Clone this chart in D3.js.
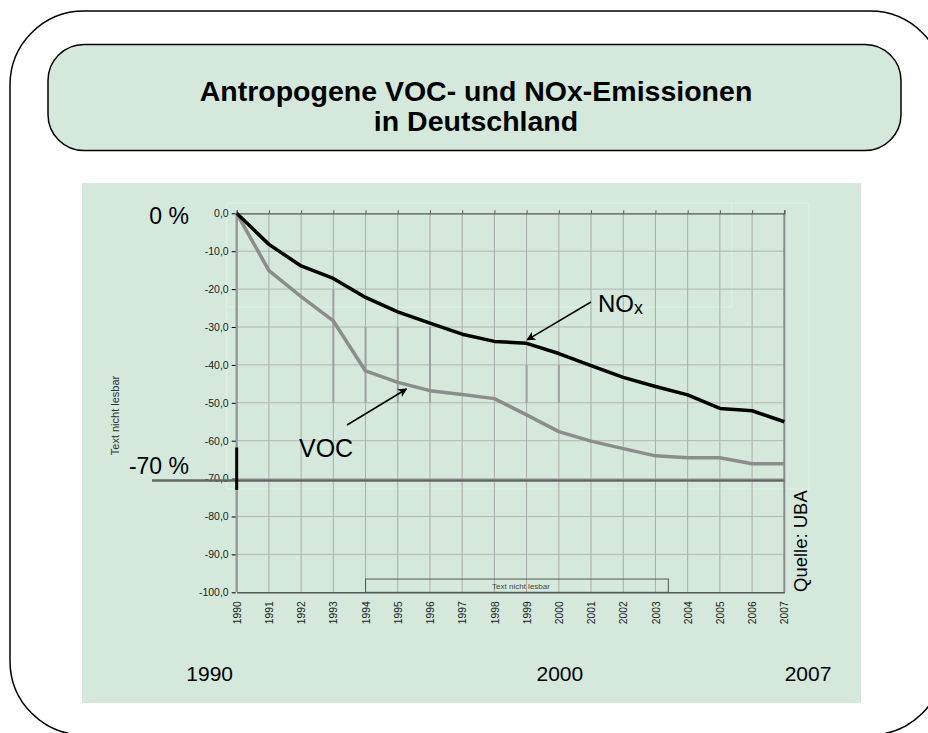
<!DOCTYPE html>
<html>
<head>
<meta charset="utf-8">
<script src="https://cdn.jsdelivr.net/npm/d3@7"></script>
<style>
  html, body { margin: 0; padding: 0; background: #fff; }
  svg { display: block; }
</style>
</head>
<body>
<svg id="chart" width="928" height="733"></svg>
<script>
// values (percent change vs. 1990)
const years = [1990, 1991, 1992, 1993, 1994, 1995, 1996, 1997, 1998, 1999,
               2000, 2001, 2002, 2003, 2004, 2005, 2006, 2007];
const nox = [0, -8.2, -13.9, -17.2, -22.2, -26.0, -29.0, -31.9, -33.8, -34.3,
             -37.0, -40.2, -43.3, -45.7, -47.9, -51.5, -52.1, -55.0];
const voc = [0, -15.1, -22.0, -28.4, -41.6, -44.6, -46.8, -47.8, -48.9, -53.2,
             -57.6, -60.1, -62.1, -64.0, -64.5, -64.5, -66.1, -66.1];
const yTicks = [0, -10, -20, -30, -40, -50, -60, -70, -80, -90, -100];
const bigYearLabels = [1990, 2000, 2007];
const titleLines = ["Antropogene VOC- und NOx-Emissionen", "in Deutschland"];
// darker grey stubs on some gridlines in the original scan: [year, from, to]
const stubs = [[1993, -20, -50], [1994, -30, -50], [1995, -30, -50],
               [1996, -30, -50], [1999, -40, -50], [2000, -40, -50]];

const svg = d3.select("#chart");
const panelFill = "#d4e9dc";
const sans = "'Liberation Sans', Arial, sans-serif";

// outer rounded frame (runs off the page on right/bottom)
svg.append("rect")
  .attr("x", 10).attr("y", 11).attr("width", 934).attr("height", 724)
  .attr("rx", 74).attr("ry", 74)
  .attr("fill", "#fff").attr("stroke", "#000").attr("stroke-width", 1.5);

// title box
svg.append("rect")
  .attr("x", 48).attr("y", 44.5).attr("width", 853).attr("height", 106)
  .attr("rx", 36).attr("ry", 36)
  .attr("fill", panelFill).attr("stroke", "#000").attr("stroke-width", 1.5);

svg.append("g").selectAll("text")
  .data(titleLines)
  .join("text")
  .attr("x", 476)
  .attr("y", (d, i) => 101 + i * 30)
  .attr("text-anchor", "middle")
  .attr("font-family", sans)
  .attr("font-weight", "bold")
  .attr("font-size", 28.5)
  .attr("fill", "#000")
  .text(d => d);

// chart panel
svg.append("rect")
  .attr("x", 82).attr("y", 183).attr("width", 779).attr("height", 520)
  .attr("fill", panelFill);

const x = d3.scaleLinear().domain([1990, 2007]).range([236.7, 784.3]);
const y = d3.scaleLinear().domain([0, -100]).range([213.3, 592.3]);

// faint edges of pasted pieces in the original scan
const ghost = svg.append("g").attr("fill", "none").attr("stroke", "#fff").attr("stroke-opacity", 0.35);
ghost.append("rect").attr("x", 226.7).attr("y", 203).attr("width", 582.3).attr("height", 286);
ghost.append("path").attr("d", "M226.7,307H731.7V203");

// grid
const grid = svg.append("g");
grid.selectAll("line.v")
  .data(years.slice(1, -1))
  .join("line")
  .attr("class", "v")
  .attr("x1", d => x(d)).attr("x2", d => x(d))
  .attr("y1", y(0)).attr("y2", y(-100))
  .attr("stroke", "#aaa").attr("stroke-width", 1);
grid.selectAll("line.h")
  .data(yTicks.slice(1, -1))
  .join("line")
  .attr("class", "h")
  .attr("x1", x(1990)).attr("x2", x(2007))
  .attr("y1", d => y(d)).attr("y2", d => y(d))
  .attr("stroke", "#b4b4b4").attr("stroke-width", 1);

grid.selectAll("line.stub")
  .data(stubs)
  .join("line")
  .attr("class", "stub")
  .attr("x1", d => x(d[0])).attr("x2", d => x(d[0]))
  .attr("y1", d => y(d[1])).attr("y2", d => y(d[2]))
  .attr("stroke", "#a0a0a0").attr("stroke-width", 2);

// frame of plot area
svg.append("line")
  .attr("x1", x(2007)).attr("x2", x(2007)).attr("y1", y(0)).attr("y2", y(-100))
  .attr("stroke", "#8a8a8a").attr("stroke-width", 2);
svg.append("line")
  .attr("x1", x(1990)).attr("x2", x(1990)).attr("y1", y(0)).attr("y2", y(-100))
  .attr("stroke", "#9a9a9a").attr("stroke-width", 2.5);

// axes
const fmt = d3.formatLocale({ decimal: ",", thousands: ".", grouping: [3], currency: ["", " €"], minus: "-" }).format(".1f");

const yAxis = svg.append("g")
  .attr("transform", `translate(${x(1990) - 1},0)`)
  .call(d3.axisLeft(y).tickValues(yTicks).tickFormat(fmt).tickSize(4).tickPadding(3));
yAxis.select(".domain").remove();
yAxis.selectAll("text").attr("font-family", sans).attr("font-size", 10.5).attr("fill", "#222");

const xTop = svg.append("g")
  .attr("transform", `translate(0,${y(0)})`)
  .call(d3.axisTop(x).tickValues(years).tickFormat("").tickSize(3));
xTop.select(".domain").attr("stroke", "#555").attr("stroke-width", 1.2);
xTop.selectAll("line").attr("stroke", "#555");

const xAxis = svg.append("g")
  .attr("transform", `translate(0,${y(-100)})`)
  .call(d3.axisBottom(x).tickValues(years).tickFormat(d3.format("d")).tickSize(0));
xAxis.select(".domain").attr("stroke", "#555").attr("stroke-width", 1.5);
xAxis.selectAll("text")
  .attr("font-family", sans).attr("font-size", 10.3).attr("fill", "#222")
  .attr("transform", "rotate(-90)")
  .attr("text-anchor", "end")
  .attr("x", -9).attr("y", 0).attr("dy", "0.35em");

// -70 % target line
svg.append("line")
  .attr("x1", 152).attr("x2", x(2007)).attr("y1", y(-70.5)).attr("y2", y(-70.5))
  .attr("stroke", "#666").attr("stroke-width", 2.5);
svg.append("line")
  .attr("x1", x(1990)).attr("x2", x(1990)).attr("y1", y(-61.8)).attr("y2", y(-73))
  .attr("stroke", "#000").attr("stroke-width", 3);

// series
const line = d3.line().x((d, i) => x(years[i])).y(d => y(d));
svg.append("path").datum(voc)
  .attr("d", line).attr("fill", "none")
  .attr("stroke", "#8c8c8c").attr("stroke-width", 3.5).attr("stroke-linejoin", "round");
svg.append("path").datum(nox)
  .attr("d", line).attr("fill", "none")
  .attr("stroke", "#000").attr("stroke-width", 3.5).attr("stroke-linejoin", "round");

// "Text nicht lesbar" box on the x axis
svg.append("rect")
  .attr("x", x(1994)).attr("y", y(-96.5))
  .attr("width", x(2003.4) - x(1994)).attr("height", y(-100) - y(-96.5))
  .attr("fill", "none").attr("stroke", "#555").attr("stroke-width", 1);
svg.append("text")
  .attr("x", 521).attr("y", 589)
  .attr("text-anchor", "middle")
  .attr("font-family", sans).attr("font-size", 8).attr("fill", "#444")
  .text("Text nicht lesbar");

// y-axis title
svg.append("text")
  .attr("transform", "translate(119,415.5) rotate(-90)")
  .attr("text-anchor", "middle")
  .attr("font-family", sans).attr("font-size", 11).attr("fill", "#333")
  .text("Text nicht lesbar");

// big labels
const big = svg.append("g").attr("font-family", sans).attr("fill", "#000");
big.append("text").attr("x", 189).attr("y", 224).attr("text-anchor", "end")
  .attr("font-size", 23).text("0 %");
big.append("text").attr("x", 189).attr("y", 474).attr("text-anchor", "end")
  .attr("font-size", 23).text("-70 %");
big.selectAll("text.yr")
  .data(bigYearLabels)
  .join("text")
  .attr("class", "yr")
  .attr("x", d => d === 2007 ? 808 : x(d) + (d === 1990 ? -27 : 1))
  .attr("y", 681)
  .attr("text-anchor", "middle")
  .attr("font-size", 21)
  .text(d => d);

big.append("text")
  .attr("transform", "translate(807,592) rotate(-90)")
  .attr("font-size", 18.5)
  .text("Quelle: UBA");

// series labels with arrows
const defs = svg.append("defs");
defs.append("marker")
  .attr("id", "arrow")
  .attr("viewBox", "0 0 10 10")
  .attr("refX", 9).attr("refY", 5)
  .attr("markerWidth", 9).attr("markerHeight", 9)
  .attr("markerUnits", "userSpaceOnUse")
  .attr("orient", "auto")
  .append("path").attr("d", "M0,0L10,5L0,10L2.5,5Z").attr("fill", "#000");

svg.append("line")
  .attr("x1", 591).attr("y1", 302).attr("x2", x(1999) + 0.5).attr("y2", y(-33.4))
  .attr("stroke", "#000").attr("stroke-width", 1.5).attr("marker-end", "url(#arrow)");
svg.append("line")
  .attr("x1", 347).attr("y1", 425).attr("x2", 406.5).attr("y2", 389)
  .attr("stroke", "#000").attr("stroke-width", 1.5).attr("marker-end", "url(#arrow)");

const noxLabel = big.append("text").attr("x", 598).attr("y", 312).attr("font-size", 24);
noxLabel.append("tspan").text("NO");
noxLabel.append("tspan").attr("font-size", 18).attr("dy", 1.5).text("x");

big.append("text").attr("x", 299).attr("y", 457).attr("font-size", 25).text("VOC");
</script>
</body>
</html>
